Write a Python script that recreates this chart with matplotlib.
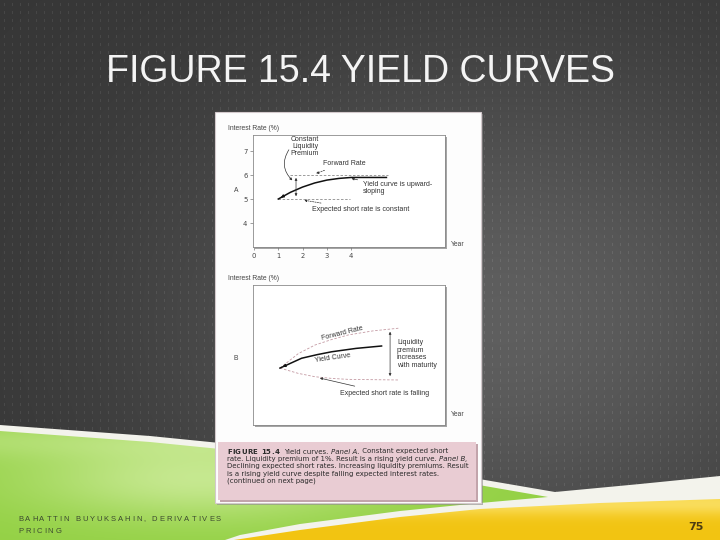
import matplotlib
matplotlib.use('Agg')
import matplotlib.pyplot as plt
import numpy as np
from matplotlib.patches import Rectangle, Polygon

# ---- data ----
# panel A: constant expected short rate (years, %)
a_yield_x = [1.0, 1.5, 2.0, 2.5, 3.0, 3.5, 4.0, 5.45]
a_yield_y = [5.0, 5.28, 5.5, 5.67, 5.79, 5.86, 5.9, 5.9]
a_forward_x = [1.48, 5.5]
a_forward_y = [6.0, 6.0]
a_short_x = [1.0, 3.95]
a_short_y = [5.0, 5.0]
a_xticks = [0, 1, 2, 3, 4]
a_yticks = [4, 5, 6, 7]

# panel B: falling expected short rate (no scale printed)
b_forward_x = [1.07, 1.82, 2.51, 3.2, 3.88, 4.9, 5.94]
b_forward_y = [5.37, 5.97, 6.33, 6.56, 6.75, 6.92, 7.03]
b_yield_x = [1.07, 1.96, 2.6, 3.2, 4.2, 5.25]
b_yield_y = [5.37, 5.78, 5.93, 6.05, 6.19, 6.29]
b_short_x = [1.07, 1.82, 2.51, 3.2, 3.88, 5.94]
b_short_y = [5.37, 5.15, 5.01, 4.94, 4.9, 4.875]

title = "FIGURE 15.4 YIELD CURVES"
footer = ["BAHATTIN BUYUKSAHIN, DERIVATIVES", "PRICING"]
page = "75"

W, H = 720, 540
fig = plt.figure(figsize=(7.2, 5.4), dpi=100)
bg = fig.add_axes([0, 0, 1, 1])
bg.set_xlim(0, W)
bg.set_ylim(H, 0)
bg.axis('off')

# dark dotted slide background
yy, xx = np.mgrid[0:H, 0:W]
g = 0.21 + 0.16 * np.exp(-(((xx - 500) / 340.0) ** 2 + ((yy - 320) / 260.0) ** 2))
dots = ((xx % 8) == 4) & ((yy % 8) >= 3) & ((yy % 8) <= 5)
g = g + dots * 0.06
bg.imshow(np.dstack([g, g, g]), extent=(0, W, H, 0), interpolation='nearest',
          aspect='auto', zorder=0)

# white band, green wedge, yellow wedge
band = Polygon([(0, 425), (150, 436), (300, 451), (450, 474), (555, 492),
                (640, 484), (720, 476), (720, 540), (0, 540)],
               closed=True, facecolor='#f3f3ec', edgecolor='none', zorder=1)
bg.add_patch(band)

base = np.array([0.58, 0.82, 0.27])
light = np.array([0.84, 0.94, 0.66])
wgt = 0.75 * np.exp(-((xx - 200) / 170.0) ** 2 - ((yy - 478) / 40.0) ** 2)
wgt = np.clip(wgt + 0.35 * np.exp(-((yy - 440) / 18.0) ** 2), 0, 1)
green_img = base * (1 - wgt[..., None]) + light * wgt[..., None]
gpoly = Polygon([(0, 431), (150, 442), (300, 457), (450, 480), (548, 497),
                 (480, 503), (400, 511), (300, 524), (240, 535), (225, 540), (0, 540)],
                closed=True, facecolor='none', edgecolor='none')
bg.add_patch(gpoly)
im = bg.imshow(green_img, extent=(0, W, H, 0), aspect='auto', zorder=2)
im.set_clip_path(gpoly)

ybase = np.array([0.95, 0.77, 0.07])
ylight = np.array([1.0, 0.93, 0.55])
wy = 0.6 * np.exp(-((yy - 503) / 12.0) ** 2)
yellow_img = ybase * (1 - wy[..., None]) + ylight * wy[..., None]
ypoly = Polygon([(234, 540), (300, 530), (400, 517), (480, 509), (600, 503),
                 (720, 499), (720, 540)],
                closed=True, facecolor='none', edgecolor='none')
bg.add_patch(ypoly)
im2 = bg.imshow(yellow_img, extent=(0, W, H, 0), aspect='auto', zorder=2)
im2.set_clip_path(ypoly)
bg.set_xlim(0, W)
bg.set_ylim(H, 0)

# slide title
bg.text(361, 82, title, color='#f4f4f4', fontsize=27, family='Liberation Sans',
        ha='center', va='baseline', zorder=5)

# textbook card
bg.add_patch(Rectangle((217, 114), 266, 391, facecolor='#8a8a8a', alpha=0.6,
                       edgecolor='none', zorder=3))
bg.add_patch(Rectangle((215, 112), 266, 391, facecolor='#fdfdfd',
                       edgecolor='#d3c9cc', linewidth=0.8, zorder=4))
bg.add_patch(Rectangle((220, 444), 258, 58, facecolor='#c2a4ab',
                       edgecolor='none', zorder=4))
bg.add_patch(Rectangle((218, 442), 258, 58, facecolor='#e9ccd3',
                       edgecolor='none', zorder=4))
# plot-box shadows
bg.add_patch(Rectangle((255, 137), 192, 112, facecolor='#a5a5a5', edgecolor='none', zorder=4))
bg.add_patch(Rectangle((255, 287), 192, 140, facecolor='#a5a5a5', edgecolor='none', zorder=4))

small = dict(fontsize=4.9, color='#444444', family='Liberation Sans', zorder=6)
bg.text(228, 128, "Interest Rate (%)", ha='left', va='center', **small)
bg.text(228, 279, "Interest Rate (%)", ha='left', va='center', **small)
bg.text(236, 190, "A", ha='center', va='center', **small)
bg.text(236, 358, "B", ha='center', va='center', **small)
bg.text(451, 244, "Year", ha='left', va='center', **small)
bg.text(451, 415, "Year", ha='left', va='center', **small)

renderer = fig.canvas.get_renderer()


def put(x, y, s, track=0.0, **kw):
    # draw s starting at x, return x where it ends (pixel units)
    inv = bg.transData.inverted()
    parts = list(s) if track else [s]
    for ch in parts:
        t = bg.text(x, y, ch, ha='left', va='baseline', **kw)
        bb = t.get_window_extent(renderer=renderer)
        x = inv.transform((bb.x1, bb.y0))[0] + track
    return x


cap = dict(fontsize=5.0, color='#2a2a2a', family='DejaVu Sans', zorder=6)
x = put(227, 453.5, "FIGURE 15.4", track=0.35, fontweight='bold', **cap)
x = put(x + 5, 453.5, "Yield curves. ", **cap)
x = put(x, 453.5, "Panel A.", style='italic', **cap)
put(x, 453.5, " Constant expected short", **cap)
x = put(227, 461, "rate. Liquidity premium of 1%. Result is a rising yield curve. ", **cap)
put(x, 461, "Panel B,", style='italic', **cap)
put(227, 468.3, "Declining expected short rates. Increasing liquidity premiums. Result", **cap)
put(227, 475.6, "is a rising yield curve despite falling expected interest rates.", **cap)
put(227, 483, "(continued on next page)", **cap)

# footer and page number
foot = dict(fontsize=5.5, color='#3c4a30', family='Liberation Sans', zorder=6)
put(18, 521, footer[0], track=1.9, **foot)
put(18, 533, footer[1], track=1.9, **foot)
bg.text(696, 527, page, fontsize=8, fontweight='bold', color='#4d3d12',
        family='Liberation Sans Narrow', ha='center', va='center', zorder=6)


def panel(rect, ylim):
    ax = fig.add_axes(rect)
    ax.set_facecolor('white')
    ax.set_xlim(-0.04, 7.86)
    ax.set_ylim(*ylim)
    for sp in ax.spines.values():
        sp.set_color('#8a8a8a')
        sp.set_linewidth(0.6)
    return ax


txt = dict(fontsize=5.0, color='#333333', family='Liberation Sans')
arr = dict(arrowstyle='-|>', color='#333333', lw=0.5, mutation_scale=3.5)

# ---- panel A ----
axA = panel([253 / W, (H - 247) / H, 192 / W, 112 / H], (3.0, 7.67))
axA.plot(a_forward_x, a_forward_y, ls=(0, (3, 2)), color='#8c8c8c', lw=0.6)
axA.plot(a_short_x, a_short_y, ls=(0, (3, 2)), color='#8c8c8c', lw=0.6)
axA.plot(a_yield_x, a_yield_y, color='#111111', lw=1.1)
axA.annotate('', xy=(a_yield_x[0], a_yield_y[0]), xytext=(1.3, 5.17),
             arrowprops=dict(arrowstyle='-|>', color='#111111', lw=0.9, mutation_scale=4))
axA.annotate('', xy=(1.73, 6.0), xytext=(1.73, 5.0),
             arrowprops=dict(arrowstyle='<|-|>', color='#333333', lw=0.5, mutation_scale=3.5))
axA.set_xticks(a_xticks)
axA.set_yticks(a_yticks)
axA.tick_params(length=2, width=0.5, color='#777777', labelsize=4.9,
                labelcolor='#444444', pad=2)
axA.text(2.1, 7.2, "Constant\nLiquidity\nPremium", ha='center', va='center',
         linespacing=1.0, **txt)
axA.annotate('', xy=(1.66, 5.7), xytext=(1.5, 7.15),
             arrowprops=dict(arrowstyle='-|>', color='#333333', lw=0.5, mutation_scale=3.5,
                             connectionstyle='arc3,rad=0.45'))
axA.annotate("Forward Rate", xy=(2.45, 6.03), xytext=(2.84, 6.5), ha='left', va='center',
             arrowprops=dict(arr, linestyle=(0, (2, 1.5))), **txt)
axA.annotate("Yield curve is upward-\nsloping", xy=(3.9, 5.88), xytext=(4.49, 5.45),
             ha='left', va='center', linespacing=1.1, arrowprops=arr, **txt)
axA.annotate("Expected short rate is constant", xy=(1.95, 4.97), xytext=(2.39, 4.55),
             ha='left', va='center', arrowprops=dict(arr, linestyle=(0, (2, 1.5))), **txt)

# ---- panel B ----
axB = panel([253 / W, (H - 425) / H, 192 / W, 140 / H], (3.0, 8.83))
axB.set_xticks([])
axB.set_yticks([])
axB.plot(b_forward_x, b_forward_y, ls=(0, (3, 2)), color='#c49aa3', lw=0.6)
axB.plot(b_short_x, b_short_y, ls=(0, (3, 2)), color='#c49aa3', lw=0.6)
axB.plot(b_yield_x, b_yield_y, color='#111111', lw=1.1)
axB.annotate('', xy=(b_yield_x[0], b_yield_y[0]), xytext=(1.35, 5.5),
             arrowprops=dict(arrowstyle='-|>', color='#111111', lw=0.9, mutation_scale=4))
axB.annotate('', xy=(5.6, 7.0), xytext=(5.6, 4.92),
             arrowprops=dict(arrowstyle='<|-|>', color='#333333', lw=0.5, mutation_scale=3.5))
axB.text(3.62, 6.8, "Forward Rate", ha='center', va='center', rotation=14, **txt)
axB.text(3.25, 5.8, "Yield Curve", ha='center', va='center', rotation=8, **txt)
axB.text(5.88, 5.96, "Liquidity\npremium\nincreases\nwith maturity", ha='left',
         va='center', linespacing=1.1, **txt)
axB.annotate("Expected short rate is falling", xy=(2.6, 4.98), xytext=(3.54, 4.33),
             ha='left', va='center', arrowprops=arr, **txt)

fig.savefig('out.png', dpi=100)
